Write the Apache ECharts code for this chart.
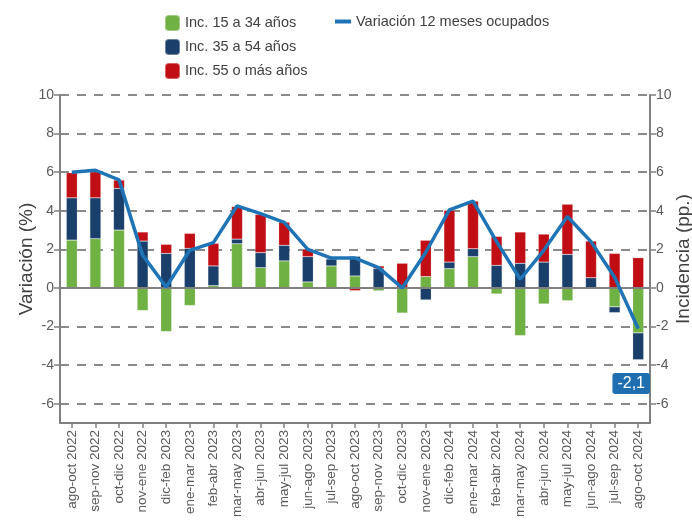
<!DOCTYPE html>
<html>
<head>
<meta charset="utf-8">
<script src="https://cdn.jsdelivr.net/npm/echarts@6/dist/echarts.min.js"></script>
<style>html,body{margin:0;padding:0;background:#fff}#c{width:692px;height:520px}</style>
</head>
<body>
<div id="c"></div>
<script>
const categories = ["ago-oct 2022","sep-nov 2022","oct-dic 2022","nov-ene 2022","dic-feb 2023","ene-mar 2023","feb-abr 2023","mar-may 2023","abr-jun 2023","may-jul 2023","jun-ago 2023","jul-sep 2023","ago-oct 2023","sep-nov 2023","oct-dic 2023","nov-ene 2023","dic-feb 2024","ene-mar 2024","feb-abr 2024","mar-may 2024","abr-jun 2024","may-jul 2024","jun-ago 2024","jul-sep 2024","ago-oct 2024"];
const inc15a34 = [2.48,2.55,3.0,-1.17,-2.26,-0.91,0.12,2.29,1.05,1.40,0.31,1.14,0.62,-0.15,-1.30,0.59,1.0,1.62,-0.31,-2.47,-0.83,-0.66,0.0,-0.98,-2.33];
const inc35a54 = [2.19,2.12,2.16,2.43,1.79,2.05,1.02,0.24,0.78,0.81,1.31,0.36,1.02,1.0,0.02,-0.62,0.34,0.41,1.17,1.28,1.34,1.74,0.53,-0.30,-1.39];
const inc55mas = [1.30,1.35,0.43,0.47,0.47,0.78,1.17,1.69,1.98,1.20,0.38,0.04,-0.14,0.14,1.26,1.88,2.68,2.47,1.50,1.62,1.45,2.60,1.90,1.79,1.57];
const variacion = [6.0,6.1,5.6,1.7,0.05,1.95,2.35,4.25,3.85,3.4,2.0,1.55,1.55,1.05,0.0,1.85,4.05,4.5,2.4,0.45,1.95,3.7,2.4,0.55,-2.1];
const yTicks = [-6,-4,-2,0,2,4,6,8,10];

const cGreen = '#70b144', cBlue = '#1b3f6b', cRed = '#c10e14', cLine = '#1f74b6';
const gray = '#808080';
const ff = 'Arial, Liberation Sans, sans-serif';

function yAxisDef(pos, name, gap) {
  return {
    type: 'value', position: pos, min: -7, max: 10,
    name: name, nameLocation: 'middle', nameGap: gap, nameMoveOverlap: false,
    nameTextStyle: { fontSize: 19, color: '#404040', fontFamily: ff },
    axisLine: { show: true, lineStyle: { color: gray, width: 2 } },
    axisTick: { show: true, length: 6, customValues: yTicks, lineStyle: { color: gray, width: 1.5 } },
    axisLabel: { customValues: yTicks, fontSize: 14, color: '#595959', margin: 6, fontFamily: ff },
    splitLine: { show: pos === 'left', lineStyle: { color: '#8a8a8a', width: 2, type: [9, 8] } }
  };
}

const barCommon = { type: 'bar', stack: 'inc', barWidth: 11, itemStyle: { borderColor: 'rgba(255,255,255,0.35)', borderWidth: 0.5 } };

const lineData = variacion.map((v, i) => i === variacion.length - 1 ? {
  value: v,
  symbol: 'circle', symbolSize: 1,
  label: {
    show: true, position: 'bottom', offset: [-7, 39],
    formatter: p => String(p.value).replace('.', ','),
    backgroundColor: '#1f6fb0', color: '#fff', fontSize: 16,
    padding: [3, 5, 2, 5], borderRadius: 3,
    fontFamily: ff
  }
} : v);

const option = {
  animation: false,
  grid: { left: 60, right: 42, top: 95, bottom: 97, containLabel: false, outerBoundsMode: 'none' },
  legend: [
    {
      data: ['Inc. 15 a 34 años', 'Inc. 35 a 54 años', 'Inc. 55 o más años'],
      orient: 'vertical', left: 159, top: 9, itemWidth: 15, itemHeight: 16, itemGap: 6,
      textStyle: { fontSize: 14.5, color: '#404040', fontFamily: ff }
    },
    {
      data: [{ name: 'Variación 12 meses ocupados', icon: 'rect' }],
      left: 330, top: 9, itemWidth: 16, itemHeight: 4, itemGap: 7,
      textStyle: { fontSize: 14.5, color: '#404040', fontFamily: ff }
    }
  ],
  xAxis: {
    type: 'category', data: categories,
    axisLine: { show: true, onZero: false, lineStyle: { color: gray, width: 2 } },
    axisTick: { show: true, alignWithLabel: true, length: 5, lineStyle: { color: gray, width: 1.5 } },
    axisLabel: { rotate: 90, interval: 0, fontSize: 13.5, color: '#595959', margin: 7, fontFamily: ff }
  },
  yAxis: [yAxisDef('left', 'Variación (%)', 24), yAxisDef('right', 'Incidencia (pp.)', 24)],
  series: [
    Object.assign({}, barCommon, { name: 'Inc. 15 a 34 años', data: inc15a34, color: cGreen,
      markLine: { silent: true, symbol: 'none', label: { show: false }, lineStyle: { color: gray, type: 'solid', width: 2 }, data: [{ yAxis: 0 }] } }),
    Object.assign({}, barCommon, { name: 'Inc. 35 a 54 años', data: inc35a54, color: cBlue }),
    Object.assign({}, barCommon, { name: 'Inc. 55 o más años', data: inc55mas, color: cRed }),
    {
      name: 'Variación 12 meses ocupados', type: 'line', data: lineData, color: cLine,
      showSymbol: true, symbol: 'none', lineStyle: { width: 3.5, color: cLine }, z: 5
    }
  ]
};
const chart = echarts.init(document.getElementById('c'));
chart.setOption(option);
</script>
</body>
</html>
